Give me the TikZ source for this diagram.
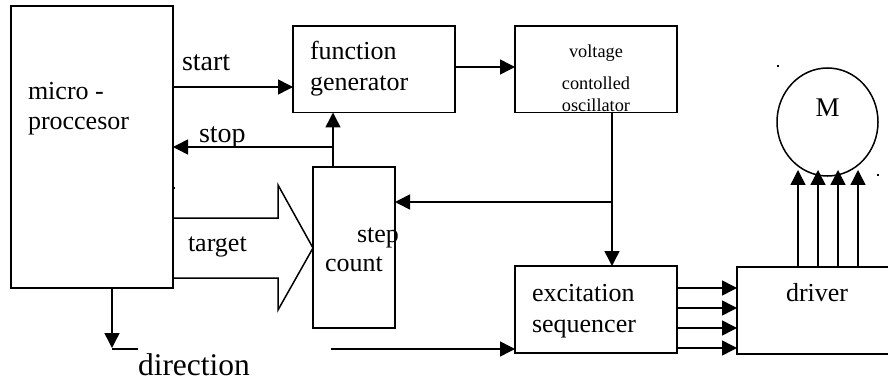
\documentclass[tikz,border=0pt]{standalone}
\usepackage{fontspec}
\setmainfont{Liberation Serif}
\usetikzlibrary{arrows.meta,shapes.geometric}
\begin{document}
\begin{tikzpicture}[x=1pt,y=-1pt,
  line width=1.5pt,
  block/.style={draw, line width=1.5pt, rectangle, inner sep=0pt, outer sep=0pt},
  arr/.style={-{Triangle[length=15pt,width=15pt]}, line width=1.5pt},
  lbl/.style={inner sep=0pt, outer sep=0pt, anchor=base west, font=\fontsize{26}{30}\selectfont},
  small/.style={inner sep=0pt, outer sep=0pt, anchor=base, font=\fontsize{18.3}{22}\selectfont}]
\useasboundingbox (0,0) rectangle (888,382);
\clip (0,0) rectangle (888,382);

% blocks
\node[block, minimum width=162pt, minimum height=282pt] (mp)  at (92,147) {};
\node[block, minimum width=162pt, minimum height=86.5pt] (fg)  at (374,69.25) {};
\node[block, minimum width=162pt, minimum height=86.5pt] (vco) at (596,69.25) {};
\node[block, minimum width=82pt,  minimum height=161pt] (sc)  at (354,247.5) {};
\node[block, minimum width=162pt, minimum height=87pt]  (es)  at (596,309.5) {};
\node[block, minimum width=223pt, minimum height=87pt]  (dr)  at (848.5,310.5) {};
\node[draw, ellipse, line width=1.5pt, inner sep=0pt, minimum width=101pt, minimum height=108pt] (motor) at (827.5,122) {};

% labels
\node[lbl] (tmicro) at (28,100) {micro -};
\node[lbl] (tproc)  at (28,130) {proccesor};
\node[lbl, font=\fontsize{28}{32}\selectfont] (tstart) at (182,71) {start};
\node[lbl, font=\fontsize{28}{32}\selectfont] (tstop)  at (199,143) {stop};
\node[lbl] (tfunc)  at (310,60) {function};
\node[lbl] (tgen)   at (310,91) {generator};
\node[small] (tvolt) at (596,58) {voltage};
\node[small] (tcont) at (596,90) {contolled};
\node[small] (tosc)  at (596,112) {oscillator};
\node[lbl] (ttarget) at (188,251) {target};
\node[lbl] (tstep)  at (357,242) {step};
\node[lbl] (tcount) at (325,271) {count};
\node[lbl, font=\fontsize{31.5}{36}\selectfont] (tdir) at (138,375) {direction};
\node[lbl] (texc)   at (532,301) {excitation};
\node[lbl] (tseq)   at (532,332) {sequencer};
\node[lbl] (tdrv)   at (786,301) {driver};
\node[inner sep=0pt, anchor=base, font=\fontsize{27}{30}\selectfont] (tm) at (827.5,117) {M};

% row and column helpers
\coordinate (ystart) at (0,87);
\coordinate (yfv)    at (0,67);
\coordinate (ystop)  at (0,147);
\coordinate (ybr)    at (0,202);
\coordinate (xv)     at (612,0);
\coordinate (xsc)    at (333,0);
\coordinate (xdir)   at (112,0);
\coordinate (ydir)   at (0,348);
\coordinate (ymot)   at (0,170);

% control signals
\draw[arr] (mp.east |- ystart) -- (fg.west |- ystart);
\draw[arr] (fg.east |- yfv) -- (vco.west |- yfv);
\draw[arr] (xsc |- sc.north) -- (xsc |- fg.south);
\draw[arr] (xsc |- ystop) -- (mp.east |- ystop);
\draw[arr] (xv |- vco.south) -- (xv |- es.north);
\draw[arr] (xv |- ybr) -- (sc.east |- ybr);

% target bus arrow
\draw[line width=1.5pt, line join=miter]
  (mp.east |- 0,218) -- (278,218) -- (278,185) -- (sc.west |- 0,248)
  -- (278,310) -- (278,278) -- (mp.east |- 0,278);

% direction
\draw[arr] (xdir |- mp.south) -- (xdir |- ydir);
\coordinate (dend) at (138,349);
\draw (xdir |- dend) -- (dend);
\coordinate (dstart) at (331,349);
\draw[arr] (dstart) -- (es.west |- dstart);

% sequencer to driver
\foreach \y in {288,308,328,348}
  \draw[arr] (es.east |- 0,\y) -- (dr.west |- 0,\y);

% driver to motor
\foreach \x in {798,818,838,858}
  \draw[arr] (\x,0 |- dr.north) -- (\x,0 |- ymot);

% stray marks
\fill (777,65) rectangle (779,67);
\fill (877,174) rectangle (879,176);
\fill (173,187) rectangle (175,189);
\end{tikzpicture}
\end{document}
